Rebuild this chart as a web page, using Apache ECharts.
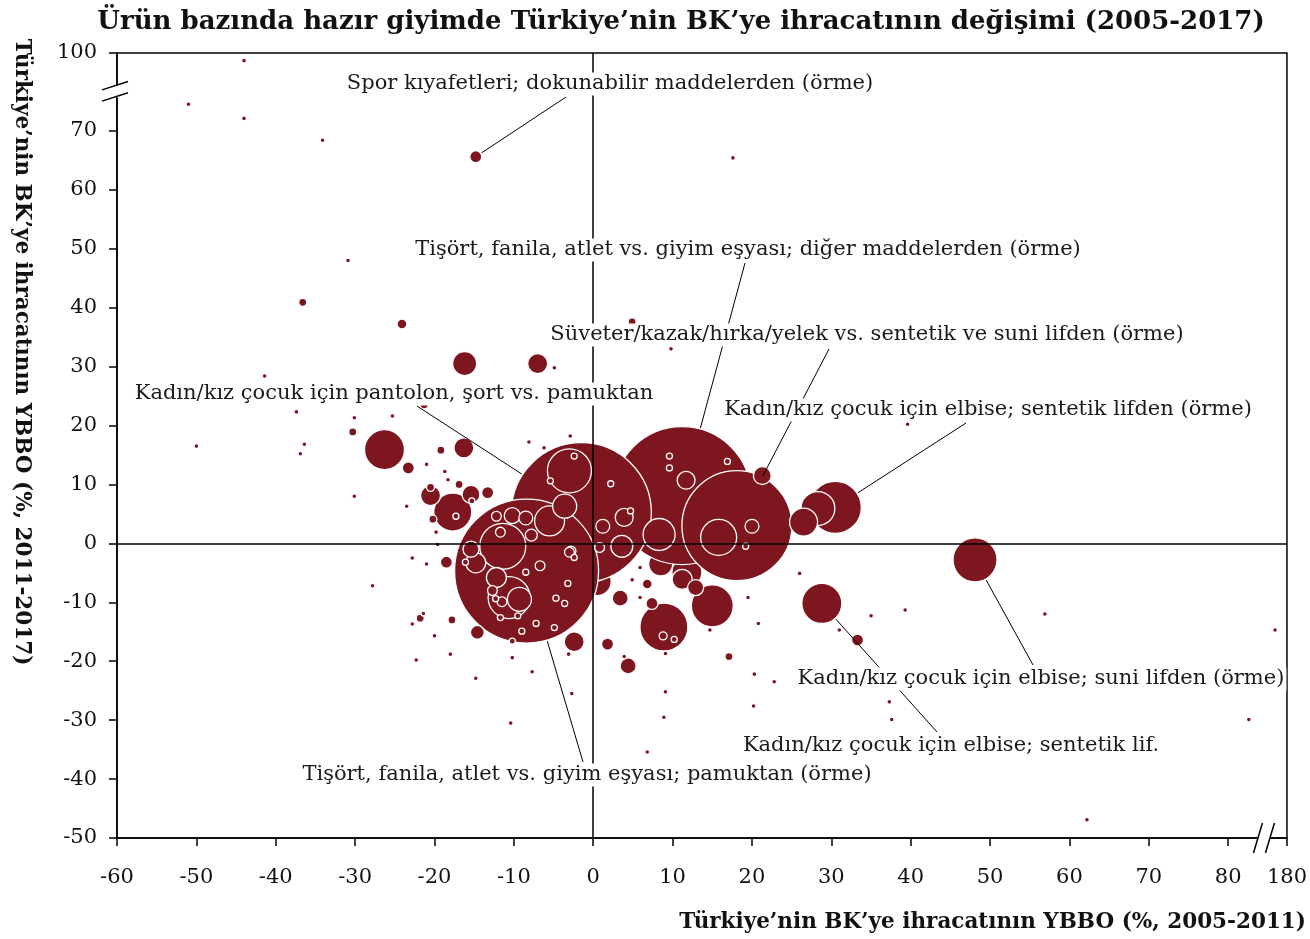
<!DOCTYPE html>
<html>
<head>
<meta charset="utf-8">
<script src="https://cdn.jsdelivr.net/npm/echarts@6.0.0/dist/echarts.min.js"></script>
<style>
  html, body { margin: 0; padding: 0; background: #fff; }
  #chart { width: 1310px; height: 939px; }
</style>
</head>
<body>
<div id="chart"></div>
<script>
// YBBO 2005-2011 (%), x — drawn in this order
const ybbo0511 = [
  11.8, 0.5, 8.5,
  11.2, -1.5, -8.4, 18.1, 30.5, 48.1, 28.8, -14.8,
  8.9, -11.4, -3.0, 15.0, -10.6, -26.3, -17.7, 15.8, 28.3, 8.3,
  -5.5, 26.5, -16.2, -3.6, -9.3,
  11.2, 12.9,
  3.6, -7.0, -16.3, -20.5, -2.4,
  -14.8, -12.2, 3.9, 11.7, -15.4, 21.3, -10.2, -15.4, 3.4, 4.4,
  1.2, -8.5, -14.6, 20.0, -13.3, -23.3, -18.5, 7.4, 1.8, -7.8,
  33.3, -24.1, 0.8, -2.8, -11.7, -12.2, 6.8, -12.7, -11.5, -6.7,
  -3.0, -36.6, 4.9, -30.3, -19.2, -16.9, -20.5, -20.2, -17.8, -21.8,
  -21.3, 17.1, 8.8,
  10.2, -2.4, -5.4, 2.2, 4.7, -2.4, 9.6, 9.6, 16.9, 19.2,
  -15.3, -17.3, -16.1, -12.3, -8.5, -3.2, -4.7, -3.6, -11.7, -9.5,
  -7.2, -9.0, -4.9, -10.2,
  -44.0, -51.0, -44.0, -34.1, 17.6, -30.9, -41.4, -4.9, 9.8, -37.4,
  -30.1, -25.3, 39.6, -50.0, -36.4, -36.9, -21.0, -18.7, -18.3, -30.1,
  -23.5, -19.8, -19.6, -22.8, -21.0, -27.8, -21.4, -22.8, -20.0, -22.3,
  -18.0, -10.2, -7.7, -14.8, -3.1, -2.7, -10.4, -8.1, -2.9, -6.2,
  4.9, 5.9, 5.9, 3.9, 9.1, 9.1, 8.9, 6.8, 14.7, 19.5,
  20.8, 20.3, 22.8, 20.2, 26.0, 31.0, 35.0, 39.3, 37.3, 37.6,
  56.9, 178.5, 82.6, 62.2
];
// YBBO 2011-2017 (%), y
const ybbo1117 = [
  -4.9, -6.5, -3.5,
  8.1, 5.2, -4.7, 3.0, 6.1, -2.8, -10.2, 65.6,
  -14.2, -0.5, 12.3, -10.6, -9.2, 15.9, 5.3, 1.0, 5.9, 1.5,
  3.8, 3.6, 30.5, 6.3, -9.5,
  -6.1, -7.5,
  -0.5, 30.5, 16.2, 8.1, -16.7,
  -3.3, -5.8, 4.4, 10.7, 8.3, 11.5, 4.7, -1.0, -9.3, -20.8,
  2.9, 4.3, -15.1, 2.9, 8.6, 12.8, -3.2, -10.2, -17.1, 1.4,
  -16.4, 37.2, -0.7, -1.3, 1.9, 4.6, -6.9, -8.0, -9.9, -3.8,
  -1.5, 40.9, 37.6, 18.9, 15.8, 10.0, 9.5, 4.1, -13.0, -12.7,
  23.5, -19.2, -15.7,
  -16.3, 14.8, 10.6, 10.1, 5.5, -2.4, 14.8, 12.8, 13.9, -0.5,
  7.2, 4.6, -3.2, -9.4, -4.9, -6.8, -9.3, -10.2, -12.6, -12.3,
  -13.6, -14.9, -14.3, -16.6,
  98.7, 74.5, 72.1, 68.4, 65.4, 48.0, 28.4, 29.8, 33.0, 22.3,
  21.3, 21.6, 20.2, 16.5, 16.8, 15.2, 13.4, 12.2, 10.8, 8.0,
  6.3, 1.9, -0.2, -2.5, -3.5, -7.2, -11.9, -13.7, -15.7, -19.8,
  -18.8, -19.4, -21.8, -22.9, -18.8, -25.5, -30.5, 17.2, 18.2, 16.2,
  -6.2, -4.1, -9.2, -19.2, -18.7, -25.2, -29.5, -35.4, -14.7, -9.2,
  -13.6, -22.2, -23.5, -27.6, -5.1, -14.7, -12.3, -11.3, -26.9, -29.9,
  -12.0, -14.7, -29.9, -46.9
];
// BK'ye ihracat hacmi (kabarcık büyüklüğü)
const ihracat = [
  56, 49, 36,
  1190, 1225, 1296, 756, 169, 121, 100, 9,
  144, 132, 121, 110, 110, 100, 90, 81, 72, 64,
  56, 49, 36, 36, 36,
  25, 16,
  30, 25, 25, 25, 25,
  25, 25, 20, 20, 20, 20, 16, 16, 16, 16,
  12, 12, 12, 12, 9, 9, 9, 9, 9, 9,
  9, 6, 6, 6, 6, 6, 6, 6, 6, 6,
  6, 4, 4, 4, 4, 4, 4, 4, 4, 4,
  4, 4, 4,
  2.3, 2.3, 2.3, 2.3, 2.3, 2.3, 2.3, 2.3, 2.3, 2.3,
  2.3, 2.3, 2.3, 2.3, 2.3, 2.3, 2.3, 2.3, 2.3, 2.3,
  2.3, 2.3, 2.3, 2.3,
  1.5, 1.5, 1.5, 1.5, 1.5, 1.5, 1.5, 1.5, 1.5, 1.5,
  1.5, 1.5, 1.5, 1.5, 1.5, 1.5, 1.5, 1.5, 1.5, 1.5,
  1.5, 1.5, 1.5, 1.5, 1.5, 1.5, 1.5, 1.5, 1.5, 1.5,
  1.5, 1.5, 1.5, 1.5, 1.5, 1.5, 1.5, 1.5, 1.5, 1.5,
  1.5, 1.5, 1.5, 1.5, 1.5, 1.5, 1.5, 1.5, 1.5, 1.5,
  1.5, 1.5, 1.5, 1.5, 1.5, 1.5, 1.5, 1.5, 1.5, 1.5,
  1.5, 1.5, 1.5, 1.5
];

// Named products (index into the arrays above)
const urunAdlari = [
  'Tişört, fanila, atlet vs. giyim eşyası; diğer maddelerden (örme)',
  'Kadın/kız çocuk için pantolon, şort vs. pamuktan',
  'Tişört, fanila, atlet vs. giyim eşyası; pamuktan (örme)',
  'Süveter/kazak/hırka/yelek vs. sentetik ve suni lifden (örme)',
  'Kadın/kız çocuk için elbise; sentetik lifden (örme)',
  'Kadın/kız çocuk için elbise; suni lifden (örme)',
  'Kadın/kız çocuk için elbise; sentetik lif.',
  'Spor kıyafetleri; dokunabilir maddelerden (örme)'
];
const urunIndeks = [3, 4, 5, 6, 7, 8, 9, 10];

// Tick values on the two broken axes
const xTicks = [-60, -50, -40, -30, -20, -10, 0, 10, 20, 30, 40, 50, 60, 70, 80, 180];
const yTicks = [-50, -40, -30, -20, -10, 0, 10, 20, 30, 40, 50, 60, 70, 100];

// Axis breaks: x jumps from ~85 to 180, y from ~76 to 100
const X_SHIFT = 92.6, X_CUT = 100;
const Y_SHIFT = 16.8, Y_CUT = 90;
const xPos = v => (v > X_CUT ? v - X_SHIFT : v);
const yPos = v => (v > Y_CUT ? v - Y_SHIFT : v);
const xLabel = d => String(Math.round(d > 84.5 ? d + X_SHIFT : d));
const yLabel = d => String(Math.round(d > 76.5 ? d + Y_SHIFT : d));
const X_BREAK = 84.5, Y_BREAK = 76.7;

const RED = '#7e1620';
const SERIF = '"DejaVu Serif", Georgia, serif';
const size = v => 4 * Math.sqrt(v);

const points = ybbo0511.map((x, i) => [xPos(x), yPos(ybbo1117[i]), ihracat[i]]);

const chart = echarts.init(document.getElementById('chart'), null, { renderer: 'canvas' });

chart.setOption({
  animation: false,
  backgroundColor: '#fff',
  title: {
    text: 'Ürün bazında hazır giyimde Türkiye’nin BK’ye ihracatının değişimi (2005-2017)',
    left: 676, top: 4, textAlign: 'center',
    textStyle: { fontFamily: SERIF, fontWeight: 'bold', fontSize: 26, color: '#111' }
  },
  grid: {
    left: 117, right: 20, top: 53, bottom: 101,
    show: true, borderColor: '#000', borderWidth: 1.5, backgroundColor: 'transparent'
  },
  xAxis: {
    type: 'value', min: -60, max: xPos(180),
    splitLine: { show: false },
    axisLine: { onZero: false, lineStyle: { color: '#000', width: 1.5 } },
    axisTick: { length: 8, lineStyle: { color: '#000', width: 1.5 }, customValues: xTicks.map(xPos) },
    axisLabel: {
      customValues: xTicks.map(xPos), formatter: xLabel, margin: 29,
      fontFamily: SERIF, fontSize: 21, color: '#111'
    }
  },
  yAxis: {
    type: 'value', min: -50, max: yPos(100),
    splitLine: { show: false },
    axisLine: { onZero: false, lineStyle: { color: '#000', width: 1.5 } },
    axisTick: { length: 8, lineStyle: { color: '#000', width: 1.5 }, customValues: yTicks.map(yPos) },
    axisLabel: {
      customValues: yTicks.map(yPos), formatter: yLabel, margin: 20,
      fontFamily: SERIF, fontSize: 21, color: '#111'
    }
  },
  series: [
    {
      type: 'scatter',
      data: points,
      symbol: 'circle',
      symbolSize: d => size(d[2]),
      itemStyle: { color: RED, borderColor: '#fff', borderWidth: 1.3, opacity: 1 },
      z: 2,
      silent: true
    },
    {
      // zero lines over the bubbles
      type: 'scatter', data: [], z: 4, silent: true,
      markLine: {
        silent: true, symbol: 'none', animation: false,
        label: { show: false },
        lineStyle: { color: '#000', width: 1.5, type: 'solid' },
        data: [{ xAxis: 0 }, { yAxis: 0 }]
      }
    }
  ]
});

// label layout: centre of text and start point of its leader line (pixels)
const notes = [
  { at: [748, 250], from: [745, 263] },
  { at: [394, 394], from: [417, 406] },
  { at: [587, 775], from: [583, 762] },
  { at: [867, 335], from: [829, 349] },
  { at: [988, 410], from: [966, 423] },
  { at: [1041, 679], from: [1033, 665] },
  { at: [951, 746], from: [937, 732] },
  { at: [610, 84], from: [566, 97] }
];

const toPx = (x, y) => chart.convertToPixel({ gridIndex: 0 }, [x, y]);
const graphics = [];

// leader lines
urunIndeks.forEach((idx, k) => {
  const c = toPx(points[idx][0], points[idx][1]);
  const r = size(ihracat[idx]) / 2;
  const s = notes[k].from;
  const dx = s[0] - c[0], dy = s[1] - c[1];
  const len = Math.sqrt(dx * dx + dy * dy);
  const e = [c[0] + dx / len * (r + 1), c[1] + dy / len * (r + 1)];
  graphics.push({
    type: 'line', z: 10, silent: true,
    shape: { x1: s[0], y1: s[1], x2: e[0], y2: e[1] },
    style: { stroke: '#000', lineWidth: 1 }
  });
});

// labels with white boxes
urunIndeks.forEach((idx, k) => {
  graphics.push({
    type: 'text', z: 11, silent: true,
    x: notes[k].at[0], y: notes[k].at[1],
    style: {
      text: urunAdlari[k], fontFamily: SERIF, fontSize: 21, fill: '#1a1a1a',
      align: 'center', verticalAlign: 'middle',
      backgroundColor: '#fff', padding: [1, 2]
    }
  });
});

// axis titles
graphics.push({
  type: 'text', z: 11, silent: true, x: 1306, y: 922,
  style: {
    text: 'Türkiye’nin BK’ye ihracatının YBBO (%, 2005-2011)',
    fontFamily: SERIF, fontWeight: 'bold', fontSize: 21.5, fill: '#111',
    align: 'right', verticalAlign: 'middle'
  }
});
graphics.push({
  type: 'text', z: 11, silent: true, x: 22, y: 352, rotation: -Math.PI / 2,
  style: {
    text: 'Türkiye’nin BK’ye ihracatının YBBO (%, 2011-2017)',
    fontFamily: SERIF, fontWeight: 'bold', fontSize: 21.5, fill: '#111',
    align: 'center', verticalAlign: 'middle'
  }
});

// break marks on the y axis
const yb = toPx(-60, Y_BREAK);
graphics.push({ type: 'rect', z: 12, silent: true,
  shape: { x: yb[0] - 3, y: yb[1] - 6, width: 6, height: 12 }, style: { fill: '#fff' } });
[-5.6, 5.6].forEach(o => graphics.push({ type: 'line', z: 13, silent: true,
  shape: { x1: yb[0] - 15, y1: yb[1] + o + 4.2, x2: yb[0] + 11, y2: yb[1] + o - 4.2 },
  style: { stroke: '#000', lineWidth: 1.5 } }));

// break marks on the x axis
const xb = toPx(X_BREAK, -50);
graphics.push({ type: 'rect', z: 12, silent: true,
  shape: { x: xb[0] - 6, y: xb[1] - 3, width: 12, height: 6 }, style: { fill: '#fff' } });
[-6, 6].forEach(o => graphics.push({ type: 'line', z: 13, silent: true,
  shape: { x1: xb[0] + o - 4.5, y1: xb[1] + 15, x2: xb[0] + o + 4.5, y2: xb[1] - 15 },
  style: { stroke: '#000', lineWidth: 1.5 } }));

chart.setOption({ graphic: graphics });
</script>
</body>
</html>
